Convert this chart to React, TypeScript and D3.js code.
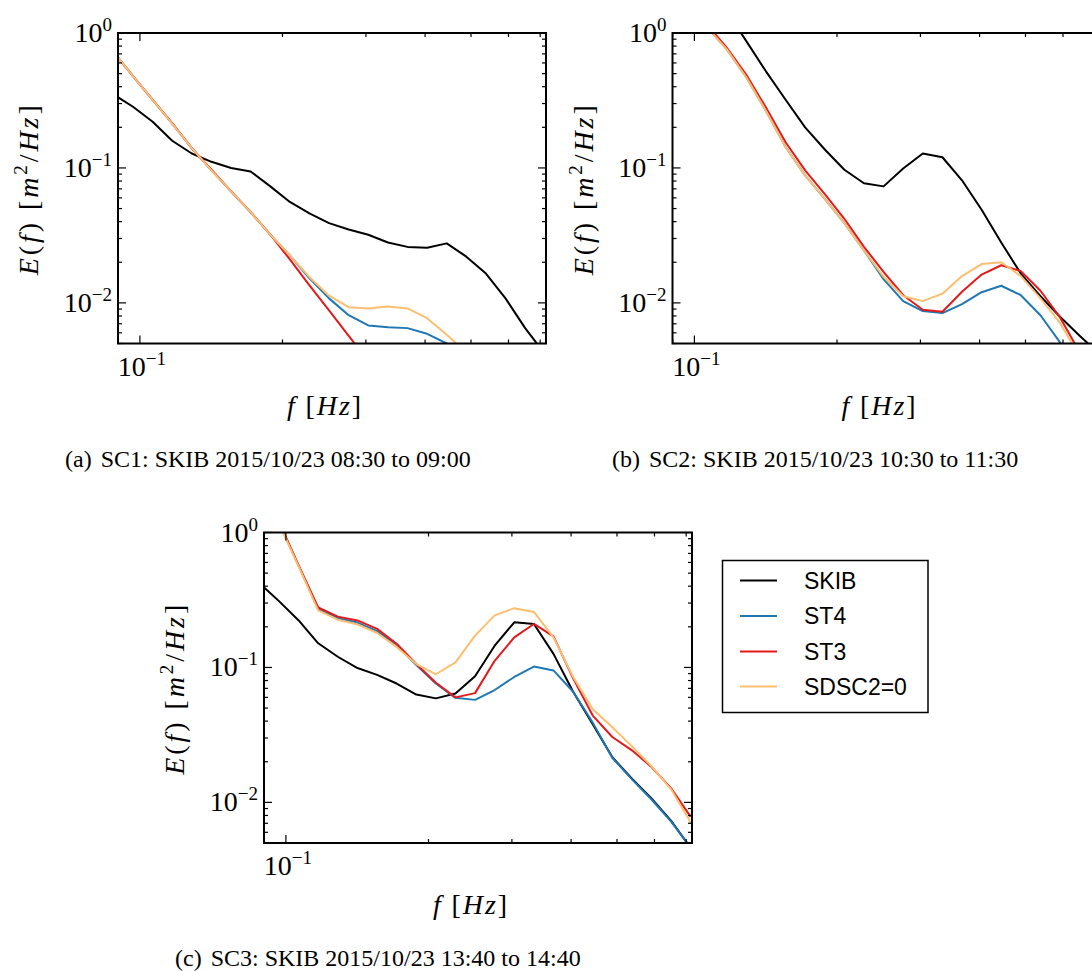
import React from 'react';
import * as d3 from 'd3';

// Frequencies (Hz) shared by all spectra
const freqs = [0.0880, 0.0967, 0.1064, 0.1170, 0.1287, 0.1416, 0.1558, 0.1713, 0.1885, 0.2073, 0.2280, 0.2508, 0.2759, 0.3035, 0.3339, 0.3672, 0.4040, 0.4444, 0.4888, 0.5377, 0.5914, 0.6506, 0.7156];

// SC1
const sc1Skib = [0.35, 0.284, 0.220, 0.159, 0.128, 0.111, 0.100, 0.094, 0.073, 0.056, 0.046, 0.039, 0.035, 0.032, 0.028, 0.026, 0.0256, 0.0276, 0.022, 0.0165, 0.0108, 0.0065, 0.0042];
const sc1St4 = [0.72, 0.48, 0.32, 0.213, 0.14, 0.096, 0.067, 0.047, 0.032, 0.0225, 0.0152, 0.0108, 0.0081, 0.0068, 0.0066, 0.0065, 0.0059, 0.0050, 0.0040, 0.0031, 0.0024, 0.0018, 0.0014];
const sc1St3 = [0.72, 0.48, 0.32, 0.215, 0.14, 0.097, 0.067, 0.047, 0.032, 0.021, 0.0135, 0.0088, 0.0057, 0.0037, 0.0024, 0.0016, 0.0011, 0.0008, 0.0006, 0.0004, 0.0003, 0.0002, 0.00015];
const sc1Sdsc = [0.72, 0.48, 0.32, 0.213, 0.14, 0.096, 0.067, 0.047, 0.032, 0.0225, 0.0155, 0.0113, 0.0093, 0.0091, 0.0094, 0.0091, 0.0077, 0.0058, 0.0043, 0.0032, 0.0024, 0.0018, 0.0013];

// SC2
const sc2Skib = [4.5, 3.2, 2.2, 1.45, 0.87, 0.52, 0.32, 0.20, 0.137, 0.097, 0.077, 0.073, 0.099, 0.128, 0.120, 0.081, 0.049, 0.028, 0.0165, 0.0112, 0.0079, 0.0057, 0.0042];
const sc2St4 = [2.2, 1.6, 1.1, 0.76, 0.47, 0.265, 0.143, 0.088, 0.059, 0.039, 0.0245, 0.0150, 0.0103, 0.0087, 0.0084, 0.0098, 0.0120, 0.0134, 0.0114, 0.0081, 0.0051, 0.0031, 0.0019];
const sc2St3 = [2.3, 1.7, 1.15, 0.78, 0.49, 0.28, 0.155, 0.096, 0.064, 0.042, 0.026, 0.017, 0.0114, 0.0089, 0.0086, 0.0121, 0.0162, 0.0190, 0.0172, 0.0123, 0.0078, 0.0043, 0.0026];
const sc2Sdsc = [2.2, 1.6, 1.1, 0.76, 0.47, 0.265, 0.143, 0.088, 0.059, 0.039, 0.0245, 0.0156, 0.0112, 0.0103, 0.0117, 0.0158, 0.0194, 0.0200, 0.0158, 0.0108, 0.0071, 0.0040, 0.0024];

// SC3
const sc3Skib = [0.42, 0.31, 0.223, 0.151, 0.12, 0.099, 0.088, 0.076, 0.063, 0.059, 0.064, 0.086, 0.145, 0.216, 0.21, 0.126, 0.066, 0.038, 0.0216, 0.015, 0.0107, 0.0073, 0.0046];
const sc3St4 = [2.5, 1.18, 0.565, 0.272, 0.232, 0.215, 0.186, 0.146, 0.104, 0.076, 0.0595, 0.0575, 0.068, 0.085, 0.1016, 0.095, 0.066, 0.039, 0.0214, 0.0148, 0.0105, 0.0072, 0.0046];
const sc3St3 = [2.5, 1.2, 0.57, 0.278, 0.238, 0.223, 0.193, 0.15, 0.106, 0.077, 0.06, 0.0645, 0.112, 0.167, 0.21, 0.17, 0.083, 0.044, 0.0305, 0.0243, 0.0183, 0.0127, 0.0078];
const sc3Sdsc = [2.4, 1.16, 0.56, 0.265, 0.226, 0.208, 0.18, 0.142, 0.106, 0.089, 0.109, 0.172, 0.243, 0.275, 0.258, 0.167, 0.085, 0.049, 0.036, 0.026, 0.0185, 0.0125, 0.0071];

const seriesNames = ['SKIB', 'ST4', 'ST3', 'SDSC2=0'];
const seriesColors = ['#000000', '#1f78b4', '#e31a1c', '#fdbf6f'];

const captionLabels = ['(a)', '(b)', '(c)'];
const captionTexts = [
  'SC1: SKIB 2015/10/23 08:30 to 09:00',
  'SC2: SKIB 2015/10/23 10:30 to 11:30',
  'SC3: SKIB 2015/10/23 13:40 to 14:40',
];

const xDomain = [0.0899, 0.72];
const yDomain = [0.005, 1];

const SERIF = '"Liberation Serif", "Times New Roman", serif';
const SANS = '"Liberation Sans", Arial, sans-serif';

const W = 428;
const H = 310.5;

function isMajor(v: number) {
  const l = Math.log10(v);
  return Math.abs(l - Math.round(l)) < 1e-6;
}

function Pow10({ exp }: { exp: number }) {
  const s = exp < 0 ? '\u2212' + Math.abs(exp) : String(exp);
  return (
    <>
      <tspan>10</tspan>
      <tspan dy={-11} fontSize={19}>{s}</tspan>
    </>
  );
}

function Panel({ id, left, top, data, capIndex, capX, capY }: any) {
  const x = d3.scaleLog().domain(xDomain).range([0, W]);
  const y = d3.scaleLog().domain(yDomain).range([H, 0]);
  const line = d3
    .line<number>()
    .x((_d, i) => x(freqs[i]))
    .y((d) => y(d));
  const xt = x.ticks().filter((v) => v > xDomain[0] * 1.001 && v < xDomain[1]);
  const yt = y.ticks().filter((v) => v >= yDomain[0] && v <= yDomain[1]);
  const clipId = 'clip-' + id;
  return (
    <g>
      <g transform={`translate(${left},${top})`}>
        <defs>
          <clipPath id={clipId}>
            <rect x={0} y={0} width={W} height={H} />
          </clipPath>
        </defs>
        <g clipPath={`url(#${clipId})`}>
          {data.map((vals: number[], k: number) => (
            <path key={k} d={line(vals) || ''} fill="none" stroke={seriesColors[k]} strokeWidth={2} strokeLinejoin="round" />
          ))}
        </g>
        {xt.map((v, i) => {
          const len = isMajor(v) ? 8 : 4;
          const px = x(v);
          return (
            <g key={'x' + i} stroke="#000" strokeWidth={1.2}>
              <line x1={px} x2={px} y1={H} y2={H - len} />
              <line x1={px} x2={px} y1={0} y2={len} />
            </g>
          );
        })}
        {yt.map((v, i) => {
          const len = isMajor(v) ? 8 : 4;
          const py = y(v);
          return (
            <g key={'y' + i} stroke="#000" strokeWidth={1.2}>
              <line x1={0} x2={len} y1={py} y2={py} />
              <line x1={W} x2={W - len} y1={py} y2={py} />
            </g>
          );
        })}
        <rect x={0} y={0} width={W} height={H} fill="none" stroke="#000" strokeWidth={2} />
        {yt.filter(isMajor).map((v, i) => (
          <text key={'yl' + i} x={-6} y={y(v) + 9} textAnchor="end" fontFamily={SERIF} fontSize={28} fill="#000">
            <Pow10 exp={Math.round(Math.log10(v))} />
          </text>
        ))}
        {xt.filter(isMajor).map((v, i) => (
          <text key={'xl' + i} x={x(v) + 2} y={H + 32} textAnchor="middle" fontFamily={SERIF} fontSize={28} fill="#000">
            <Pow10 exp={Math.round(Math.log10(v))} />
          </text>
        ))}
        <text
          transform={`translate(-80,${H / 2 + 2}) rotate(-90)`}
          textAnchor="middle"
          fontFamily={SERIF}
          fontSize={28}
          fill="#000"
          textLength={170}
          lengthAdjust="spacing"
        >
          <tspan fontStyle="italic">E</tspan>
          <tspan>(</tspan>
          <tspan fontStyle="italic">f</tspan>
          <tspan>) [</tspan>
          <tspan fontStyle="italic">m</tspan>
          <tspan dy={-11} fontSize={19}>2</tspan>
          <tspan dy={11}>/</tspan>
          <tspan fontStyle="italic">Hz</tspan>
          <tspan>]</tspan>
        </text>
        <text x={W / 2 - 8} y={H + 71} textAnchor="middle" fontFamily={SERIF} fontSize={28} fill="#000" textLength={74} lengthAdjust="spacing">
          <tspan fontStyle="italic">f</tspan>
          <tspan> [</tspan>
          <tspan fontStyle="italic">Hz</tspan>
          <tspan>]</tspan>
        </text>
      </g>
      <text x={capX} y={capY} fontFamily={SERIF} fontSize={24} fill="#000">
        <tspan>{captionLabels[capIndex]}</tspan>
        <tspan dx={9}>{captionTexts[capIndex]}</tspan>
      </text>
    </g>
  );
}

function Legend({ left, top }: { left: number; top: number }) {
  const rowY = [20, 55.5, 91, 126];
  return (
    <g transform={`translate(${left},${top})`}>
      <rect x={0} y={0} width={205.5} height={152} fill="#fff" stroke="#000" strokeWidth={1.5} />
      {seriesNames.map((n, i) => (
        <g key={n}>
          <line x1={17.5} x2={54.5} y1={rowY[i]} y2={rowY[i]} stroke={seriesColors[i]} strokeWidth={2} />
          <text x={81.5} y={rowY[i] + 8} fontFamily={SANS} fontSize={23} fill="#000">
            {n}
          </text>
        </g>
      ))}
    </g>
  );
}

export default function App() {
  React.useLayoutEffect(() => {
    document.body.style.margin = '0';
  }, []);
  return (
    <svg width={1092} height={971} style={{ display: 'block', position: 'absolute', left: 0, top: 0, background: '#fff' }}>
      <rect x={0} y={0} width={1092} height={971} fill="#fff" />
      <Panel id="a" left={118} top={33} data={[sc1Skib, sc1St4, sc1St3, sc1Sdsc]} capIndex={0} capX={65} capY={467} />
      <Panel id="b" left={672.5} top={33} data={[sc2Skib, sc2St4, sc2St3, sc2Sdsc]} capIndex={1} capX={612} capY={467} />
      <Panel id="c" left={264} top={532.5} data={[sc3Skib, sc3St4, sc3St3, sc3Sdsc]} capIndex={2} capX={175} capY={966} />
      <Legend left={722.5} top={560.5} />
    </svg>
  );
}
